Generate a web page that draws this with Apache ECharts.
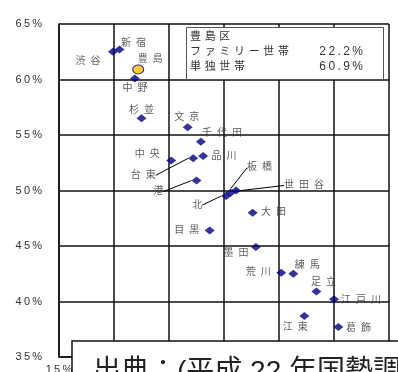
<!DOCTYPE html>
<html lang="ja">
<head>
<meta charset="UTF-8">
<title>23区 ファミリー世帯・単独世帯</title>
<script src="https://cdn.jsdelivr.net/npm/echarts@6/dist/echarts.min.js"></script>
<style>
  html, body { margin: 0; padding: 0; background: #fff; }
  #chart { width: 398px; height: 372px; }
</style>
</head>
<body>
<div id="chart"></div>
<script>
// ward data: x = family households %, y = single households %
const wards = ['千代田', '中央', '港', '新宿', '文京', '台東', '墨田', '江東', '品川', '目黒', '大田',
    '世田谷', '渋谷', '中野', '杉並', '北', '荒川', '板橋', '練馬', '足立', '葛飾', '江戸川'];
const familyPct = [27.9, 25.2, 27.5, 20.5, 26.7, 27.2, 32.9, 37.3, 28.1, 28.7, 32.6,
    31.1, 19.9, 21.9, 22.5, 30.2, 35.2, 30.6, 36.3, 38.4, 40.4, 40.0];
const singlePct = [54.4, 52.7, 50.9, 62.7, 55.7, 52.9, 44.9, 38.7, 53.1, 46.4, 48.0,
    50.0, 62.5, 60.1, 56.5, 49.5, 42.6, 49.8, 42.5, 40.9, 37.7, 40.2];

const focusWard = '豊島';
const focusFamily = 22.2;
const focusSingle = 60.9;

const xTicks = [15, 20, 25, 30, 35, 40, 45];
const yTicks = [35, 40, 45, 50, 55, 60, 65];

// label placement (pixels from the point)
const labelShift = {
    '千代田': [21, -8], '中央': [-24, -6], '港': [-38, 11], '新宿': [14, -6], '文京': [-1, -10],
    '台東': [-50, 17], '墨田': [-20, 6], '江東': [-9, 11], '品川': [21, 0], '目黒': [-23, 0],
    '大田': [21, 0], '世田谷': [68, -5], '渋谷': [-25, 9], '中野': [0, 10], '杉並': [0, -8],
    '北': [-29, 9], '荒川': [-23, 0], '板橋': [29, -25], '練馬': [14, -9], '足立': [7, -9],
    '葛飾': [20, 1], '江戸川': [27, 1], '豊島': [12, -10]
};
const leaders = ['台東', '港', '北', '板橋', '世田谷'];

const spaced = (s, sep) => s.split('').join(sep || '\u2002');
const cjk = "'Liberation Sans', 'Noto Sans CJK JP', sans-serif";

const points = wards.map((w, i) => ({
    name: w,
    value: [familyPct[i], singlePct[i]],
    labelLine: { show: leaders.indexOf(w) >= 0 }
}));

const chart = echarts.init(document.getElementById('chart'));

const pointLabel = {
    show: true,
    position: 'inside',
    formatter: p => spaced(p.name),
    fontFamily: cjk,
    fontSize: 10,
    color: '#333'
};

const layoutFn = p => {
    const name = p.seriesIndex === 0 ? wards[p.dataIndex] : focusWard;
    const d = labelShift[name] || [0, 0];
    return { dx: d[0], dy: d[1] };
};

const axisLine = { show: true, lineStyle: { color: '#111', width: 1.5 } };
const splitLine = { show: true, lineStyle: { color: '#111', width: 1.5 } };

chart.setOption({
    animation: false,
    backgroundColor: '#fff',
    grid: { left: 59, right: 9, top: 24, bottom: 15, containLabel: false, outerBoundsMode: 'none' },
    xAxis: {
        type: 'value',
        min: xTicks[0], max: xTicks[xTicks.length - 1], interval: 5,
        axisLine: axisLine, splitLine: splitLine,
        axisTick: { show: false },
        axisLabel: {
            formatter: v => spaced(v + '%', '\u2009'),
            fontFamily: cjk, fontSize: 11, color: '#333', margin: 7
        }
    },
    yAxis: {
        type: 'value',
        min: yTicks[0], max: yTicks[yTicks.length - 1], interval: 5,
        axisLine: axisLine, splitLine: splitLine,
        axisTick: { show: false },
        axisLabel: {
            formatter: v => spaced(v + '%', '\u2009'),
            fontFamily: cjk, fontSize: 11, color: '#333', margin: 17
        }
    },
    series: [
        {
            type: 'scatter',
            data: points,
            symbol: 'diamond',
            symbolSize: [10, 8],
            itemStyle: { color: '#000080' },
            label: pointLabel,
            labelLine: { lineStyle: { color: '#000', width: 1 } },
            labelLayout: layoutFn,
            z: 3
        },
        {
            type: 'scatter',
            data: [{ name: focusWard, value: [focusFamily, focusSingle] }],
            symbol: 'circle',
            symbolSize: [11, 9],
            itemStyle: { color: '#FFC000', borderColor: '#000080', borderWidth: 1 },
            label: pointLabel,
            labelLayout: layoutFn,
            z: 4
        }
    ],
    graphic: [
        {
            type: 'rect', z: 100,
            shape: { x: 186.5, y: 27.5, width: 197, height: 52 },
            style: { fill: '#fff', stroke: '#555', lineWidth: 1 }
        },
        {
            type: 'text', z: 101, x: 190, y: 37,
            style: { text: spaced(focusWard + '区', '\u2004'), font: '11px ' + cjk, fill: '#333', verticalAlign: 'middle' }
        },
        {
            type: 'text', z: 101, x: 190, y: 52,
            style: { text: spaced('ファミリー世帯', '\u2004'), font: '11px ' + cjk, fill: '#333', verticalAlign: 'middle' }
        },
        {
            type: 'text', z: 101, x: 190, y: 67,
            style: { text: spaced('単独世帯', '\u2004'), font: '11px ' + cjk, fill: '#333', verticalAlign: 'middle' }
        },
        {
            type: 'text', z: 101, x: 363, y: 52,
            style: { text: spaced(focusFamily.toFixed(1) + '%', '\u2009'), font: '12px ' + cjk, fill: '#333', align: 'right', verticalAlign: 'middle' }
        },
        {
            type: 'text', z: 101, x: 363, y: 67,
            style: { text: spaced(focusSingle.toFixed(1) + '%', '\u2009'), font: '12px ' + cjk, fill: '#333', align: 'right', verticalAlign: 'middle' }
        },
        {
            type: 'rect', z: 110,
            shape: { x: 72, y: 341, width: 340, height: 40 },
            style: { fill: '#fff', stroke: '#111', lineWidth: 1.5 }
        },
        {
            type: 'text', z: 111, x: 93, y: 358,
            style: { text: '出典：(平成 22 年国勢調査)', font: '28px ' + cjk, fill: '#222', verticalAlign: 'top' }
        }
    ]
});
</script>
</body>
</html>
